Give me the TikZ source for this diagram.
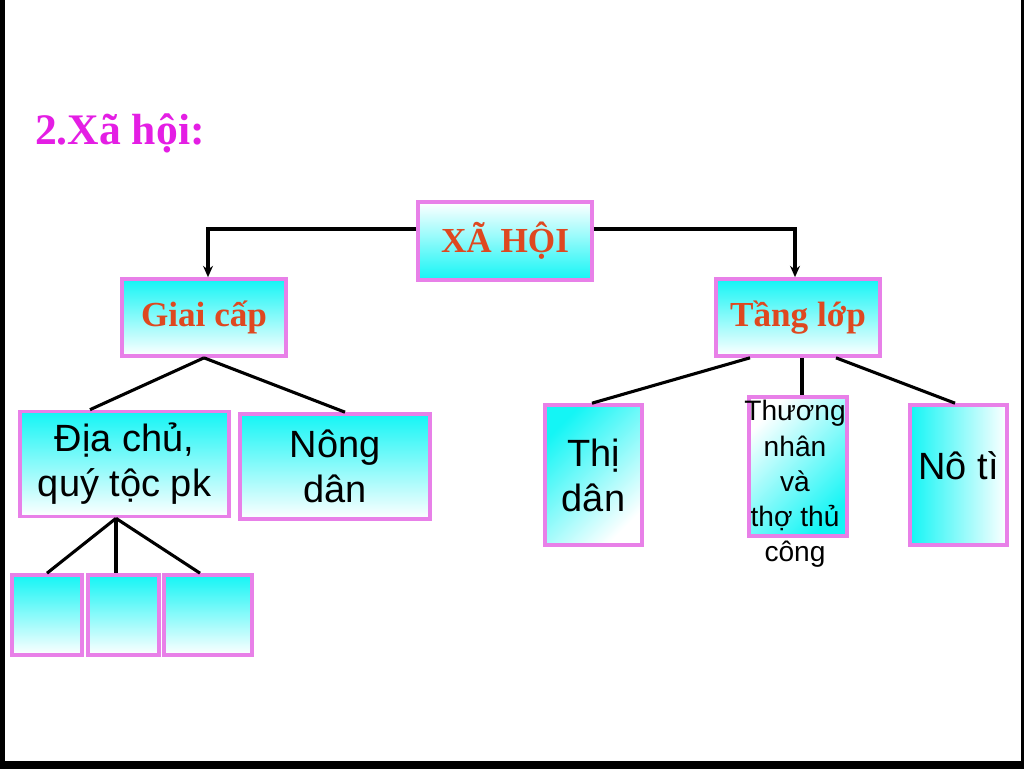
\documentclass[tikz,border=0pt]{standalone}
\usepackage{fontspec}
\setmainfont{Liberation Serif}
\setsansfont{Liberation Sans}
\usetikzlibrary{arrows.meta}
\definecolor{boxpink}{RGB}{232,128,232}
\definecolor{titlemag}{RGB}{228,30,228}
\definecolor{headred}{RGB}{222,72,32}
\definecolor{aqua}{RGB}{20,245,245}
\begin{document}
\begin{tikzpicture}[
    x=0.025cm, y=-0.025cm,
    semithick,
    pbox/.style = {draw=boxpink, line width=2.6pt, inner sep=0pt, align=center},
    headbox/.style = {pbox, font=\bfseries\fontsize{25}{28}\selectfont, text=headred},
    leafbox/.style = {pbox, font=\sffamily\fontsize{27}{32}\selectfont},
    down/.style = {top color=aqua, bottom color=white},
    up/.style = {top color=white, bottom color=aqua},
    line/.style = {draw=black, line width=2.2pt},
    arrow/.style = {line, -{Stealth[length=8pt,width=7pt]}}
    ]
    % frame
    \fill[black] (0,0) rectangle (1024,769);
    \fill[white] (5,0) rectangle (1021,761);
    \node[font=\bfseries\fontsize{31}{34}\selectfont, text=titlemag, anchor=west] (title) at (30,133) {2.Xã hội:};

    % top level
    \node[headbox, up, minimum width=174*0.025cm, minimum height=78*0.025cm] (xh) at (505,241) {XÃ HỘI};
    \node[headbox, down, minimum width=164*0.025cm, minimum height=77*0.025cm] (gc) at (204,317.5) {Giai cấp};
    \node[headbox, down, minimum width=164*0.025cm, minimum height=77*0.025cm] (tl) at (798,317.5) {Tầng lớp};

    % leaves
    \node[leafbox, down, minimum width=209*0.025cm, minimum height=105*0.025cm] (dc) at (124.5,464) {Địa chủ,\\quý tộc pk};
    \node[leafbox, down, minimum width=190*0.025cm, minimum height=105*0.025cm] (nd) at (335,466.5) {Nông\\dân};
    \node[leafbox, top color=aqua, bottom color=white, shading angle=45, minimum width=97*0.025cm, minimum height=140*0.025cm] (td) at (593.5,475) {Thị\\dân};
    \node[pbox, top color=white, bottom color=aqua, shading angle=45, minimum width=98*0.025cm, minimum height=139*0.025cm] (tn) at (798,466.5) {};
    \node[font=\sffamily\fontsize{20}{25}\selectfont, align=center] (tntext) at (795,484) {Thương\\nhân\\và\\thợ thủ\\công};
    \node[leafbox, left color=aqua, right color=white, minimum width=97*0.025cm, minimum height=140*0.025cm, text depth=14pt] (nt) at (958.5,475) {Nô tì};

    % empty boxes
    \node[pbox, down, minimum width=70*0.025cm, minimum height=80*0.025cm] (e1) at (47,615) {};
    \node[pbox, down, minimum width=71*0.025cm, minimum height=80*0.025cm] (e2) at (123.5,615) {};
    \node[pbox, down, minimum width=88*0.025cm, minimum height=80*0.025cm] (e3) at (208,615) {};

    % connectors
    \draw[arrow] (xh.west |- 0,229) -| (gc.north -| 208,0);
    \draw[arrow] (xh.east |- 0,229) -| (tl.north -| 795,0);
    \draw[line] (gc.south) -- (dc.north -| 90,0);
    \draw[line] (gc.south) -- (nd.north -| 345,0);
    \draw[line] (tl.south -| 750,0) -- (td.north -| 592,0);
    \draw[line] (tl.south -| 802,0) -- (tn.north -| 802,0);
    \draw[line] (tl.south -| 836,0) -- (nt.north -| 955,0);
    \draw[line] (dc.south -| 116,0) -- (e1.north);
    \draw[line] (dc.south -| 116,0) -- (e2.north -| 116,0);
    \draw[line] (dc.south -| 116,0) -- (e3.north -| 200,0);
\end{tikzpicture}
\end{document}
